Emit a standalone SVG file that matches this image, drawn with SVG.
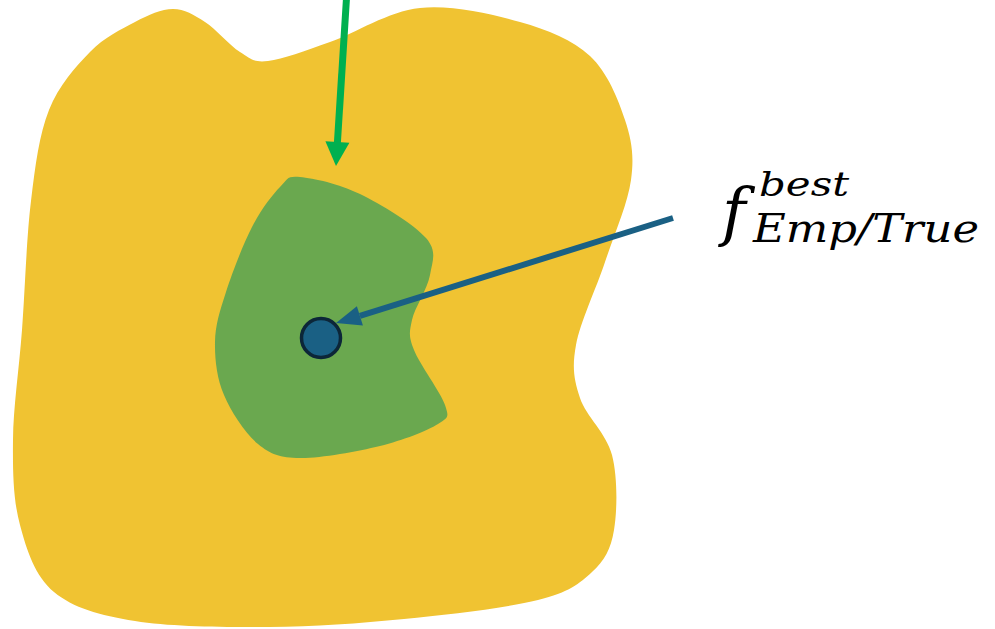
<svg xmlns="http://www.w3.org/2000/svg" width="995" height="629" viewBox="0 0 995 629">
<style>
.math{font-family:"DejaVu Serif","Liberation Serif",serif;font-style:italic;fill:#000}
</style>
<rect width="995" height="629" fill="#fff"/>
<g id="outer-region">
<path fill="#F0C332" d="M173,9 C184.7,9 193.8,14.8 205,22 C216.2,29.2 229.5,45.5 240,52 C250.5,58.5 253,62.7 268,61 C283,59.3 304.7,50.8 330,42 C355.3,33.2 388.3,11.3 420,8 C451.7,4.7 491.7,14 520,22 C548.3,30 572.5,39.7 590,56 C607.5,72.3 618.2,99.3 625,120 C631.8,140.7 634.3,156.3 631,180 C627.7,203.7 614.2,234.5 605,262 C595.8,289.5 580.2,322.3 576,345 C571.8,367.7 574,379.7 580,398 C586,416.3 606.3,433 612,455 C617.7,477 617.3,510.5 614,530 C610.7,549.5 604.7,560.3 592,572 C579.3,583.7 569.3,592.2 538,600 C506.7,607.8 448.8,614.5 404,619 C359.2,623.5 313.8,626.7 269,627 C224.2,627.3 170.8,626.8 135,621 C99.2,615.2 73.2,608 54,592 C34.8,576 26.8,550.3 20,525 C13.2,499.7 12.7,472.5 13,440 C13.3,407.5 19,369.8 22,330 C25,290.2 26.5,237.7 31,201 C35.5,164.3 39.2,134.8 49,110 C58.8,85.2 75.7,66.7 90,52 C104.3,37.3 121.2,29.2 135,22 C148.8,14.8 161.3,9 173,9 Z"/>
</g>
<g id="inner-region">
<path fill="#6AA84F" d="M300,177 C313.3,178.2 339,183.8 360,194 C381,204.2 414.3,224.5 426,238 C437.7,251.5 432.3,261.3 430,275 C427.7,288.7 414.7,307.5 412,320 C409.3,332.5 408.5,335.8 414,350 C419.5,364.2 441,392.7 445,405 C449,417.3 448.8,417.2 438,424 C427.2,430.8 403,440.3 380,446 C357,451.7 320.3,458.3 300,458 C279.7,457.7 270.7,454.5 258,444 C245.3,433.5 231.2,412 224,395 C216.8,378 214.7,359.2 215,342 C215.3,324.8 219.8,311.2 226,292 C232.2,272.8 243,244.5 252,227 C261,209.5 272,195.3 280,187 C288,178.7 286.7,175.8 300,177 Z"/>
</g>
<g id="best-point">
<circle cx="321" cy="338" r="19.5" fill="#1A6084" stroke="#0C2638" stroke-width="3.5"/>
</g>
<g id="connectors">
<line x1="346.5" y1="-2" x2="337.4" y2="143" stroke="#00B050" stroke-width="7"/>
<polygon points="349.4,142.7 325.4,141.3 336,166" fill="#00B050"/>
<line x1="673" y1="218" x2="359.9" y2="315.8" stroke="#1A6084" stroke-width="6"/>
<polygon points="362.9,325.4 356.9,306.3 336,323" fill="#1A6084"/>
</g>
<g id="label">
<text class="math"><tspan x="722" y="234" font-size="64">f</tspan><tspan x="759" y="196" font-size="34" textLength="90" lengthAdjust="spacingAndGlyphs">best</tspan><tspan x="753" y="242" font-size="39" textLength="226" lengthAdjust="spacingAndGlyphs">Emp/True</tspan></text>
</g>
</svg>
